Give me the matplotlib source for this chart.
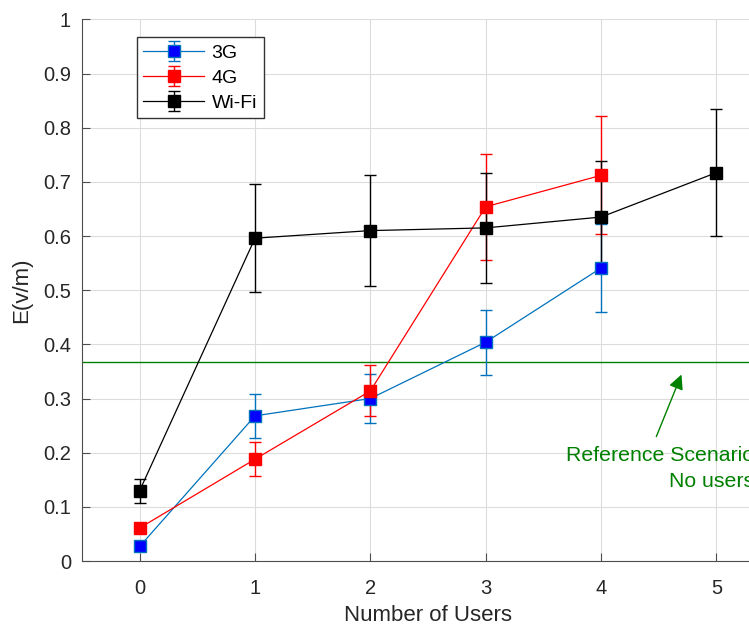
import matplotlib
matplotlib.use("Agg")
from matplotlib import pyplot as plt

plt.rcParams['font.family'] = ['Liberation Sans', 'DejaVu Sans']

users = [0, 1, 2, 3, 4, 5]

# 3G
e_3g = [0.027, 0.268, 0.300, 0.404, 0.541]
err_3g = [0.004, 0.040, 0.045, 0.060, 0.081]
# 4G
e_4g = [0.061, 0.188, 0.314, 0.654, 0.712]
err_4g = [0.004, 0.031, 0.047, 0.098, 0.109]
# Wi-Fi
e_wifi = [0.130, 0.596, 0.610, 0.615, 0.635, 0.717]
err_wifi = [0.022, 0.100, 0.102, 0.101, 0.104, 0.117]

ref_level = 0.367

dark = '#262626'
fig = plt.figure(figsize=(7.49, 6.26), dpi=100)
ax = fig.add_axes([0.1095, 0.1038, 0.924, 0.8653])

ax.errorbar(users[:5], e_3g, yerr=err_3g, color='#0072BD', marker='s', ms=8,
            mfc='b', mec='#0072BD', lw=0.9, elinewidth=1, capsize=4.5, label='3G', zorder=3)
ax.errorbar(users[:5], e_4g, yerr=err_4g, color='r', marker='s', ms=8,
            mfc='r', mec='r', lw=0.9, elinewidth=1, capsize=4.5, label='4G', zorder=3)
ax.errorbar(users, e_wifi, yerr=err_wifi, color='k', marker='s', ms=8,
            mfc='k', mec='k', lw=0.9, elinewidth=1, capsize=4.5, label='Wi-Fi', zorder=3)

ax.axhline(ref_level, color='#008000', lw=1, zorder=2)

# annotation (runs off the right edge, as in the original)
ax.annotate('', xy=(4.706, 0.349), xytext=(4.47, 0.225),
            arrowprops=dict(arrowstyle='-|>', color='#008000', lw=1, mutation_scale=22))
ax.text(5.33, 0.185, 'Reference Scenario', color='#008000', fontsize=15.3, ha='right', va='baseline')
ax.text(5.33, 0.137, 'No users', color='#008000', fontsize=15.3, ha='right', va='baseline')

ax.set_xlim(-0.5, 5.5)
ax.set_ylim(0, 1)
ax.set_xticks(users)
ax.set_yticks([0, 0.1, 0.2, 0.3, 0.4, 0.5, 0.6, 0.7, 0.8, 0.9, 1])
ax.set_yticklabels(['0', '0.1', '0.2', '0.3', '0.4', '0.5', '0.6', '0.7', '0.8', '0.9', '1'])
ax.grid(True, color='#dcdcdc', lw=0.8)
ax.set_axisbelow(True)
for s in ['top', 'right']:
    ax.spines[s].set_visible(False)
for s in ['left', 'bottom']:
    ax.spines[s].set_color('#4d4d4d')
ax.tick_params(direction='in', length=6, colors='#4d4d4d', labelcolor=dark, labelsize=14.5)
ax.tick_params(axis='x', pad=13)
ax.tick_params(axis='y', pad=8)

ax.set_xlabel('Number of Users', fontsize=16, color=dark, labelpad=5)
ax.set_ylabel('E(v/m)', fontsize=16, color=dark, labelpad=8)

leg = ax.legend(loc='upper left', bbox_to_anchor=(0.079, 0.967), borderaxespad=0, fontsize=14,
                handlelength=3.1, handletextpad=0.4, borderpad=0.35, labelspacing=0.38,
                fancybox=False, framealpha=1)
leg.get_frame().set_edgecolor('#333333')
leg.get_frame().set_linewidth(1)

plt.savefig('out.png', dpi=100)
